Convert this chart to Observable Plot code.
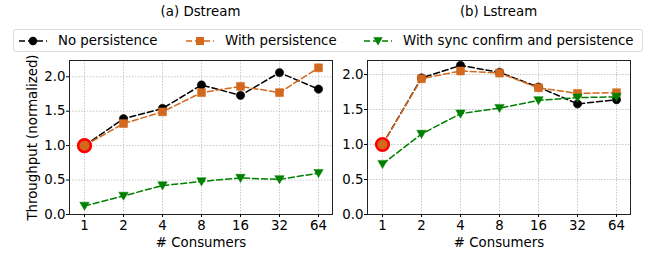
<!DOCTYPE html>
<html>
<head>
<meta charset="utf-8">
<script src="https://cdn.jsdelivr.net/npm/d3@7"></script>
<script src="https://cdn.jsdelivr.net/npm/@observablehq/plot@0.6"></script>
<style>
  html, body { margin: 0; padding: 0; background: #fff; }
  #root { position: relative; width: 650px; height: 254px; font-family: "DejaVu Sans", sans-serif; color: #000; }
  .panel { position: absolute; top: 0; }
  .title { position: absolute; top: 4px; font-size: 13.33px; transform: translateX(-50%); white-space: nowrap; }
  #legend { position: absolute; left: 13px; top: 29px; width: 630px; height: 23px; box-sizing: border-box;
            border: 1px solid #dcdcdc; border-radius: 3px; background: rgba(255,255,255,0.85); z-index: 5; }
  .lg-item { position: absolute; top: 0; height: 21px; display: flex; align-items: center; font-size: 13.33px; white-space: nowrap; }
  .lg-item svg { margin-right: 10px; }
</style>
</head>
<body>
<div id="root">
  <div class="title" style="left:200.5px">(a) Dstream</div>
  <div class="title" style="left:498.5px">(b) Lstream</div>
  <div id="legend"></div>
</div>
<script>
// ---- data ----
const categories = ["1", "2", "4", "8", "16", "32", "64"];
const seriesNames = ["No persistence", "With persistence", "With sync confirm and persistence"];

const dstreamNoPersistence = [1.00, 1.39, 1.54, 1.88, 1.73, 2.06, 1.82];
const dstreamPersistence   = [1.00, 1.32, 1.49, 1.77, 1.86, 1.77, 2.13];
const dstreamSyncConfirm   = [0.125, 0.27, 0.42, 0.48, 0.53, 0.51, 0.60];

const lstreamNoPersistence = [1.00, 1.95, 2.13, 2.03, 1.82, 1.58, 1.64];
const lstreamPersistence   = [1.00, 1.94, 2.05, 2.02, 1.81, 1.73, 1.74];
const lstreamSyncConfirm   = [0.72, 1.15, 1.44, 1.52, 1.63, 1.67, 1.68];

const yTicks = [0, 0.5, 1.0, 1.5, 2.0];
const highlightX = ["1"];
const highlightY = [1.0];

// ---- styles ----
const colors = ["#000000", "#d2691e", "#008000"];
const symbols = ["circle", "square", "triangle"];
const radii = [4.2, 4.5, 3.5];
const rotations = [0, 0, 180];
const markerDy = [0, 0, -1];
const dash = "6,3";

function rows(values, si) {
  return categories.map((c, i) => ({consumers: c, value: values[i], series: seriesNames[si]}));
}

function panel(seriesValues, yMax, opts) {
  const marks = [
    Plot.gridX({stroke: "#b0b0b0", strokeOpacity: 0.7, strokeDasharray: "1.5,1.5"}),
    Plot.gridY(yTicks, {stroke: "#b0b0b0", strokeOpacity: 0.7, strokeDasharray: "1.5,1.5"}),
  ];
  seriesValues.forEach((vals, si) => {
    const data = rows(vals, si);
    marks.push(Plot.line(data, {x: "consumers", y: "value", stroke: colors[si], strokeWidth: 1.5, strokeDasharray: dash}));
    marks.push(Plot.dot(data, {x: "consumers", y: "value", symbol: symbols[si], r: radii[si], fill: colors[si], stroke: colors[si], strokeWidth: 0.5, rotate: rotations[si], dy: markerDy[si]}));
  });
  const hl = highlightX.map((x, i) => ({consumers: x, value: highlightY[i]}));
  marks.push(Plot.dot(hl, {x: "consumers", y: "value", r: 6.3, fill: colors[1], stroke: "#ff0000", strokeWidth: 2.6}));
  marks.push(Plot.frame({stroke: "#222", strokeWidth: 1}));
  marks.push(Plot.axisX({tickSize: 3, tickPadding: 3, label: "# Consumers", labelAnchor: "center", labelArrow: "none", labelOffset: 32}));
  marks.push(Plot.axisY(yTicks, {tickSize: 3, tickPadding: 1, tickFormat: d3.format(".1f"),
    label: opts.ylabel, labelAnchor: "center", labelArrow: "none", labelOffset: opts.labelOffset || 40}));
  return Plot.plot({
    width: opts.width, height: 254,
    marginLeft: opts.ml, marginRight: opts.mr, marginTop: 60, marginBottom: 40,
    style: {fontFamily: "DejaVu Sans", fontSize: "13.33px", background: "transparent", overflow: "visible", color: "#000"},
    x: {type: "point", domain: categories, padding: 0.3},
    y: {domain: [0, yMax]},
    marks
  });
}

const root = document.getElementById("root");
const left = panel([dstreamNoPersistence, dstreamPersistence, dstreamSyncConfirm], 2.236,
  {width: 340, ml: 69, mr: 8, ylabel: "Throughput (normalized)", labelOffset: 42});
left.classList.add("panel"); left.style.left = "0px";
root.appendChild(left);
const right = panel([lstreamNoPersistence, lstreamPersistence, lstreamSyncConfirm], 2.2,
  {width: 315, ml: 32, mr: 20, ylabel: null});
right.classList.add("panel"); right.style.left = "335px";
root.appendChild(right);

// ---- legend ----
const legendX = [4, 171, 349];
const legend = document.getElementById("legend");
seriesNames.forEach((name, si) => {
  const item = document.createElement("div");
  item.className = "lg-item";
  item.style.left = legendX[si] + "px";
  const svg = d3.create("svg").attr("width", 30).attr("height", 14);
  svg.append("line").attr("x1", 1).attr("x2", 29).attr("y1", 7).attr("y2", 7)
    .attr("stroke", colors[si]).attr("stroke-width", 1.5).attr("stroke-dasharray", dash);
  const sym = {circle: d3.symbolCircle, square: d3.symbolSquare, triangle: d3.symbolTriangle}[symbols[si]];
  svg.append("path").attr("d", d3.symbol(sym, Math.PI * radii[si] * radii[si])())
    .attr("transform", `translate(15,${7 + markerDy[si]}) rotate(${rotations[si]})`).attr("fill", colors[si]);
  item.appendChild(svg.node());
  const t = document.createElement("span");
  t.textContent = name;
  item.appendChild(t);
  legend.appendChild(item);
});
</script>
</body>
</html>
